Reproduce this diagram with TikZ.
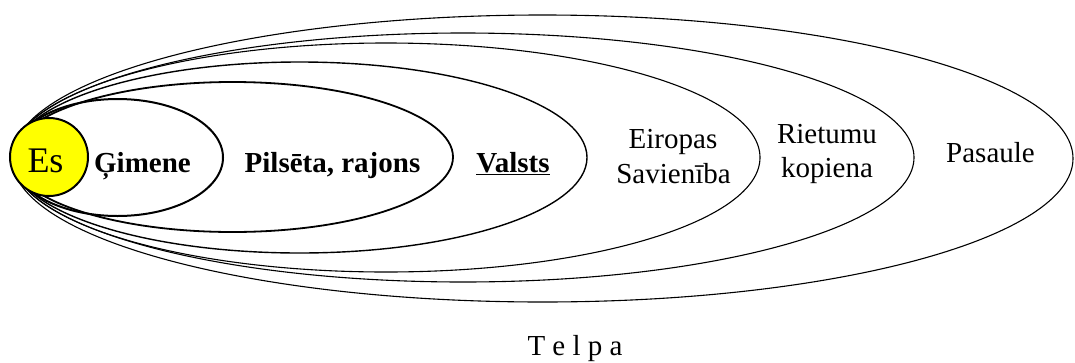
\documentclass[tikz,border=0pt]{standalone}
\usepackage{fontspec}
\setmainfont{Liberation Serif}
\begin{document}
\begin{tikzpicture}[x=1pt,y=-1pt,
  ring/.style={draw=black,line width=#1},
  lbl/.style={anchor=base,inner sep=0pt,font=\fontsize{29}{34}\selectfont},
  lblb/.style={lbl,font=\fontsize{29}{34}\selectfont\bfseries}]
\useasboundingbox (0,0) rectangle (1075,362);
% nested spheres, outermost first
\draw[ring=1.1pt] (542.5,158.5) ellipse [x radius=530.5pt, y radius=143.5pt];
\draw[ring=1.1pt] (463,157.5) ellipse [x radius=451pt, y radius=124.5pt];
\draw[ring=1.1pt] (386,157.5) ellipse [x radius=374pt, y radius=114.5pt];
\draw[ring=1.4pt] (299.5,157.5) ellipse [x radius=287.5pt, y radius=95.5pt];
\draw[ring=1.8pt] (232.5,157) ellipse [x radius=220.5pt, y radius=75pt];
\draw[ring=2pt] (117.5,157.5) ellipse [x radius=105.5pt, y radius=58.5pt];
\draw[ring=2pt, fill={rgb,255:red,255;green,255;blue,0}] (49,157) circle [radius=39pt];
% labels
\node[lbl,font=\fontsize{36}{40}\selectfont] (es) at (45.5,172) {Es};
\node[lblb] (gim) at (142.5,172) {Ģimene};
\node[lblb] (pils) at (332.5,172) {Pilsēta, rajons};
\node[lblb] (valsts) at (513,172) {\underline{Valsts}};
\node[lbl,align=center] (eiropas) at (673,148) {Eiropas};
\node[lbl] (savien) at (673.5,183) {Savienība};
\node[lbl] (rietumu) at (827,143) {Rietumu};
\node[lbl] (kopiena) at (827,177) {kopiena};
\node[lbl] (pasaule) at (990.5,162) {Pasaule};
\node[lbl] (telpa) at (575,355) {T e l p a};
\end{tikzpicture}
\end{document}
